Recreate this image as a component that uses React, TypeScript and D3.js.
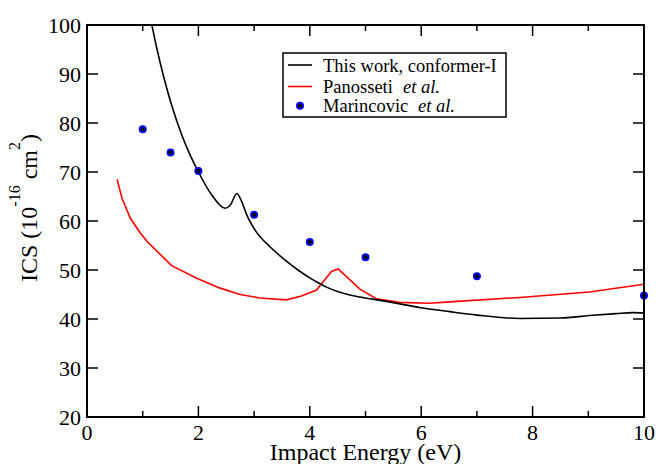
import React from "react";
import * as d3 from "d3";

// This work, conformer-I (energy eV, ICS)
const thisWorkE = [1.12, 1.165, 1.254, 1.373, 1.523, 1.7, 1.85, 2.0, 2.24, 2.48, 2.57, 2.69, 2.78, 2.87, 3.02, 3.29, 3.58, 3.8, 4.0, 4.15, 4.3, 4.5, 4.72, 5.0, 5.32, 6.0, 6.51, 7.0, 7.77, 8.5, 9.02, 9.5, 9.8, 10.0];
const thisWorkV = [102.5, 100, 95.2, 89.6, 83.5, 77.6, 73.5, 70.0, 65.3, 62.6, 63.2, 65.6, 63.9, 61.2, 58.1, 54.7, 51.8, 49.9, 48.4, 47.4, 46.5, 45.6, 44.9, 44.3, 43.7, 42.3, 41.5, 40.8, 40.1, 40.2, 40.7, 41.1, 41.3, 41.2];

// Panosseti et al.
const panoE = [0.54, 0.63, 0.78, 0.96, 1.08, 1.52, 1.97, 2.39, 2.75, 3.1, 3.58, 3.85, 4.12, 4.39, 4.51, 4.9, 5.2, 5.61, 6.15, 6.51, 7.77, 9.02, 10.0];
const panoV = [68.5, 64.6, 60.5, 57.5, 55.8, 50.9, 48.3, 46.3, 45.0, 44.3, 43.9, 44.7, 45.9, 49.7, 50.2, 46.1, 44.1, 43.4, 43.2, 43.5, 44.4, 45.5, 47.1];

// Marincovic et al.
const marE = [1, 1.5, 2, 3, 4, 5, 7, 10];
const marV = [78.7, 74.0, 70.2, 61.3, 55.7, 52.6, 48.7, 44.8];

const xMajor = [0, 2, 4, 6, 8, 10];
const xMinor = [1, 3, 5, 7, 9];
const yMajor = [20, 30, 40, 50, 60, 70, 80, 90, 100];

const W = 658, H = 464;
const L = 87, R = 644, T = 25, B = 417;

export default function App() {
  const x = d3.scaleLinear().domain([0, 10]).range([L, R]);
  const y = d3.scaleLinear().domain([20, 100]).range([B, T]);
  const font = "'Liberation Serif', 'Times New Roman', serif";

  const lineSmooth = d3.line<[number, number]>().x(d => x(d[0])).y(d => y(d[1])).curve(d3.curveMonotoneX);
  const lineLin = d3.line<[number, number]>().x(d => x(d[0])).y(d => y(d[1]));

  const tw = thisWorkE.map((e, i) => [e, thisWorkV[i]] as [number, number]);
  const pn = panoE.map((e, i) => [e, panoV[i]] as [number, number]);

  return (
    <svg width={W} height={H} style={{ position: "fixed", left: 0, top: 0, background: "#fff" }} fontFamily={font}>
      <defs>
        <clipPath id="plotclip">
          <rect x={L} y={T} width={R - L} height={B - T} />
        </clipPath>
      </defs>
      <rect x={0} y={0} width={W} height={H} fill="#fff" />
      <g clipPath="url(#plotclip)">
        <path d={lineLin(pn) || ""} fill="none" stroke="#ff0000" strokeWidth={1.6} />
        <path d={lineSmooth(tw) || ""} fill="none" stroke="#000" strokeWidth={1.6} />
      </g>
      {marE.map((e, i) => (
        <circle key={i} cx={x(e)} cy={y(marV[i])} r={3.1} fill="#000" stroke="#0000ff" strokeWidth={1.8} />
      ))}
      {/* frame */}
      <rect x={L} y={T} width={R - L} height={B - T} fill="none" stroke="#000" strokeWidth={2} />
      {/* x ticks */}
      {xMajor.map(v => (
        <g key={"xM" + v}>
          <line x1={x(v)} x2={x(v)} y1={B} y2={B - 11} stroke="#000" strokeWidth={1.5} />
          <line x1={x(v)} x2={x(v)} y1={T} y2={T + 11} stroke="#000" strokeWidth={1.5} />
          <text x={x(v)} y={440} fontSize={22} textAnchor="middle" fill="#000">{v}</text>
        </g>
      ))}
      {xMinor.map(v => (
        <g key={"xm" + v}>
          <line x1={x(v)} x2={x(v)} y1={B} y2={B - 6} stroke="#000" strokeWidth={1.5} />
          <line x1={x(v)} x2={x(v)} y1={T} y2={T + 6} stroke="#000" strokeWidth={1.5} />
        </g>
      ))}
      {yMajor.map(v => (
        <g key={"yM" + v}>
          <line x1={L} x2={L + 11} y1={y(v)} y2={y(v)} stroke="#000" strokeWidth={1.5} />
          <line x1={R} x2={R - 11} y1={y(v)} y2={y(v)} stroke="#000" strokeWidth={1.5} />
          <text x={81} y={y(v) + 7.5} fontSize={22} textAnchor="end" fill="#000">{v}</text>
        </g>
      ))}
      {/* axis titles */}
      <text x={(L + R) / 2} y={460} fontSize={24} textAnchor="middle" fill="#000">Impact Energy (eV)</text>
      <text transform="translate(37,282) rotate(-90)" fontSize={24} fill="#000">
        ICS (10<tspan fontSize={16} dy={-17}>-16</tspan><tspan dy={17}> cm</tspan><tspan fontSize={16} dy={-17}>2</tspan><tspan dy={17}>)</tspan>
      </text>
      {/* legend */}
      <rect x={283} y={53} width={223} height={64} fill="#fff" stroke="#000" strokeWidth={1.5} />
      <line x1={288} x2={312} y1={65} y2={65} stroke="#000" strokeWidth={1.6} />
      <text x={323} y={72} fontSize={18.5} fill="#000">This work, conformer-I</text>
      <line x1={288} x2={312} y1={86.5} y2={86.5} stroke="#ff0000" strokeWidth={1.6} />
      <text x={323} y={92.5} fontSize={18.5} fill="#000">Panosseti</text>
      <text x={403} y={92.5} fontSize={18.5} fontStyle="italic" fill="#000">et al.</text>
      <circle cx={300} cy={105.7} r={3.1} fill="#000" stroke="#0000ff" strokeWidth={1.8} />
      <text x={323} y={111.7} fontSize={18.5} fill="#000">Marincovic</text>
      <text x={418} y={111.7} fontSize={18.5} fontStyle="italic" fill="#000">et al.</text>
    </svg>
  );
}
